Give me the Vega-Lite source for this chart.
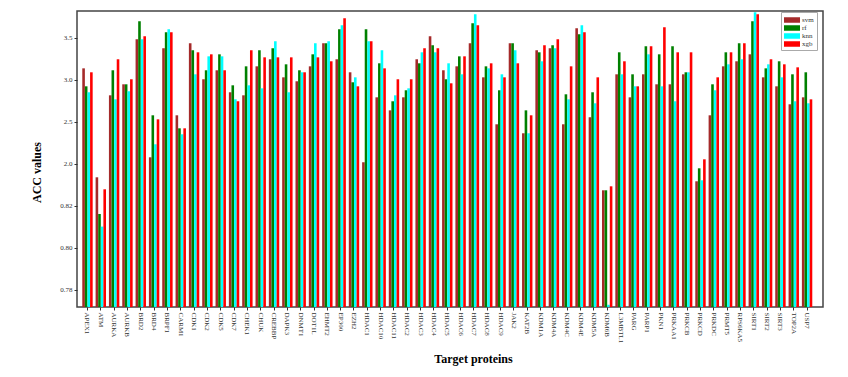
{
  "$schema": "https://vega.github.io/schema/vega-lite/v6.json",
  "width": 746,
  "height": 296,
  "autosize": "none",
  "padding": {"left": 77, "top": 11, "right": 25, "bottom": 70},
  "background": "white",
  "config": {"view": {"stroke": "#444", "strokeWidth": 1.5}, "font": "Liberation Serif"},
  "data": {"values": [
    {"protein": "APEX1", "model": "svm", "acc": 3.134}, {"protein": "APEX1", "model": "rf", "acc": 2.92}, {"protein": "APEX1", "model": "knn", "acc": 2.849}, {"protein": "APEX1", "model": "xgb", "acc": 3.087},
    {"protein": "ATM", "model": "svm", "acc": 1.615}, {"protein": "ATM", "model": "rf", "acc": 0.816}, {"protein": "ATM", "model": "knn", "acc": 0.81}, {"protein": "ATM", "model": "xgb", "acc": 1.278},
    {"protein": "AURKA", "model": "svm", "acc": 2.813}, {"protein": "AURKA", "model": "rf", "acc": 3.111}, {"protein": "AURKA", "model": "knn", "acc": 2.765}, {"protein": "AURKA", "model": "xgb", "acc": 3.242},
    {"protein": "AURKB", "model": "svm", "acc": 2.944}, {"protein": "AURKB", "model": "rf", "acc": 2.944}, {"protein": "AURKB", "model": "knn", "acc": 2.861}, {"protein": "AURKB", "model": "xgb", "acc": 3.004},
    {"protein": "BRD2", "model": "svm", "acc": 3.48}, {"protein": "BRD2", "model": "rf", "acc": 3.694}, {"protein": "BRD2", "model": "knn", "acc": 3.48}, {"protein": "BRD2", "model": "xgb", "acc": 3.515},
    {"protein": "BRD4", "model": "svm", "acc": 2.075}, {"protein": "BRD4", "model": "rf", "acc": 2.575}, {"protein": "BRD4", "model": "knn", "acc": 2.23}, {"protein": "BRD4", "model": "xgb", "acc": 2.527},
    {"protein": "BRPF1", "model": "svm", "acc": 3.373}, {"protein": "BRPF1", "model": "rf", "acc": 3.563}, {"protein": "BRPF1", "model": "knn", "acc": 3.599}, {"protein": "BRPF1", "model": "xgb", "acc": 3.563},
    {"protein": "CARM1", "model": "svm", "acc": 2.575}, {"protein": "CARM1", "model": "rf", "acc": 2.42}, {"protein": "CARM1", "model": "knn", "acc": 2.349}, {"protein": "CARM1", "model": "xgb", "acc": 2.42},
    {"protein": "CDK1", "model": "svm", "acc": 3.432}, {"protein": "CDK1", "model": "rf", "acc": 3.349}, {"protein": "CDK1", "model": "knn", "acc": 3.063}, {"protein": "CDK1", "model": "xgb", "acc": 3.325},
    {"protein": "CDK2", "model": "svm", "acc": 3.004}, {"protein": "CDK2", "model": "rf", "acc": 3.111}, {"protein": "CDK2", "model": "knn", "acc": 3.277}, {"protein": "CDK2", "model": "xgb", "acc": 3.301},
    {"protein": "CDK5", "model": "svm", "acc": 3.111}, {"protein": "CDK5", "model": "rf", "acc": 3.301}, {"protein": "CDK5", "model": "knn", "acc": 3.277}, {"protein": "CDK5", "model": "xgb", "acc": 3.111},
    {"protein": "CDK7", "model": "svm", "acc": 2.849}, {"protein": "CDK7", "model": "rf", "acc": 2.932}, {"protein": "CDK7", "model": "knn", "acc": 2.765}, {"protein": "CDK7", "model": "xgb", "acc": 2.742},
    {"protein": "CHEK1", "model": "svm", "acc": 2.813}, {"protein": "CHEK1", "model": "rf", "acc": 3.158}, {"protein": "CHEK1", "model": "knn", "acc": 2.932}, {"protein": "CHEK1", "model": "xgb", "acc": 3.349},
    {"protein": "CHUK", "model": "svm", "acc": 3.158}, {"protein": "CHUK", "model": "rf", "acc": 3.349}, {"protein": "CHUK", "model": "knn", "acc": 2.896}, {"protein": "CHUK", "model": "xgb", "acc": 3.265},
    {"protein": "CREBBP", "model": "svm", "acc": 3.242}, {"protein": "CREBBP", "model": "rf", "acc": 3.373}, {"protein": "CREBBP", "model": "knn", "acc": 3.456}, {"protein": "CREBBP", "model": "xgb", "acc": 3.265},
    {"protein": "DAPK3", "model": "svm", "acc": 3.027}, {"protein": "DAPK3", "model": "rf", "acc": 3.182}, {"protein": "DAPK3", "model": "knn", "acc": 2.849}, {"protein": "DAPK3", "model": "xgb", "acc": 3.265},
    {"protein": "DNMT1", "model": "svm", "acc": 2.98}, {"protein": "DNMT1", "model": "rf", "acc": 3.111}, {"protein": "DNMT1", "model": "knn", "acc": 3.087}, {"protein": "DNMT1", "model": "xgb", "acc": 3.087},
    {"protein": "DOT1L", "model": "svm", "acc": 3.158}, {"protein": "DOT1L", "model": "rf", "acc": 3.301}, {"protein": "DOT1L", "model": "knn", "acc": 3.432}, {"protein": "DOT1L", "model": "xgb", "acc": 3.265},
    {"protein": "EHMT2", "model": "svm", "acc": 3.432}, {"protein": "EHMT2", "model": "rf", "acc": 3.432}, {"protein": "EHMT2", "model": "knn", "acc": 3.456}, {"protein": "EHMT2", "model": "xgb", "acc": 3.218},
    {"protein": "EP300", "model": "svm", "acc": 3.242}, {"protein": "EP300", "model": "rf", "acc": 3.599}, {"protein": "EP300", "model": "knn", "acc": 3.646}, {"protein": "EP300", "model": "xgb", "acc": 3.73},
    {"protein": "EZH2", "model": "svm", "acc": 3.087}, {"protein": "EZH2", "model": "rf", "acc": 2.968}, {"protein": "EZH2", "model": "knn", "acc": 3.027}, {"protein": "EZH2", "model": "xgb", "acc": 2.92},
    {"protein": "HDAC1", "model": "svm", "acc": 2.016}, {"protein": "HDAC1", "model": "rf", "acc": 3.599}, {"protein": "HDAC1", "model": "knn", "acc": 3.456}, {"protein": "HDAC1", "model": "xgb", "acc": 3.456},
    {"protein": "HDAC10", "model": "svm", "acc": 2.789}, {"protein": "HDAC10", "model": "rf", "acc": 3.194}, {"protein": "HDAC10", "model": "knn", "acc": 3.349}, {"protein": "HDAC10", "model": "xgb", "acc": 3.134},
    {"protein": "HDAC11", "model": "svm", "acc": 2.634}, {"protein": "HDAC11", "model": "rf", "acc": 2.742}, {"protein": "HDAC11", "model": "knn", "acc": 2.813}, {"protein": "HDAC11", "model": "xgb", "acc": 3.004},
    {"protein": "HDAC2", "model": "svm", "acc": 2.789}, {"protein": "HDAC2", "model": "rf", "acc": 2.873}, {"protein": "HDAC2", "model": "knn", "acc": 2.896}, {"protein": "HDAC2", "model": "xgb", "acc": 3.004},
    {"protein": "HDAC3", "model": "svm", "acc": 3.242}, {"protein": "HDAC3", "model": "rf", "acc": 3.194}, {"protein": "HDAC3", "model": "knn", "acc": 3.325}, {"protein": "HDAC3", "model": "xgb", "acc": 3.373},
    {"protein": "HDAC4", "model": "svm", "acc": 3.515}, {"protein": "HDAC4", "model": "rf", "acc": 3.408}, {"protein": "HDAC4", "model": "knn", "acc": 3.325}, {"protein": "HDAC4", "model": "xgb", "acc": 3.373},
    {"protein": "HDAC5", "model": "svm", "acc": 3.111}, {"protein": "HDAC5", "model": "rf", "acc": 3.004}, {"protein": "HDAC5", "model": "knn", "acc": 3.194}, {"protein": "HDAC5", "model": "xgb", "acc": 2.956},
    {"protein": "HDAC6", "model": "svm", "acc": 3.158}, {"protein": "HDAC6", "model": "rf", "acc": 3.277}, {"protein": "HDAC6", "model": "knn", "acc": 3.063}, {"protein": "HDAC6", "model": "xgb", "acc": 3.277},
    {"protein": "HDAC7", "model": "svm", "acc": 3.432}, {"protein": "HDAC7", "model": "rf", "acc": 3.67}, {"protein": "HDAC7", "model": "knn", "acc": 3.777}, {"protein": "HDAC7", "model": "xgb", "acc": 3.646},
    {"protein": "HDAC8", "model": "svm", "acc": 3.027}, {"protein": "HDAC8", "model": "rf", "acc": 3.158}, {"protein": "HDAC8", "model": "knn", "acc": 3.134}, {"protein": "HDAC8", "model": "xgb", "acc": 3.194},
    {"protein": "HDAC9", "model": "svm", "acc": 2.468}, {"protein": "HDAC9", "model": "rf", "acc": 2.873}, {"protein": "HDAC9", "model": "knn", "acc": 3.063}, {"protein": "HDAC9", "model": "xgb", "acc": 3.027},
    {"protein": "JAK2", "model": "svm", "acc": 3.432}, {"protein": "JAK2", "model": "rf", "acc": 3.432}, {"protein": "JAK2", "model": "knn", "acc": 3.349}, {"protein": "JAK2", "model": "xgb", "acc": 3.194},
    {"protein": "KAT2B", "model": "svm", "acc": 2.361}, {"protein": "KAT2B", "model": "rf", "acc": 2.634}, {"protein": "KAT2B", "model": "knn", "acc": 2.361}, {"protein": "KAT2B", "model": "xgb", "acc": 2.575},
    {"protein": "KDM1A", "model": "svm", "acc": 3.349}, {"protein": "KDM1A", "model": "rf", "acc": 3.325}, {"protein": "KDM1A", "model": "knn", "acc": 3.218}, {"protein": "KDM1A", "model": "xgb", "acc": 3.408},
    {"protein": "KDM4A", "model": "svm", "acc": 3.373}, {"protein": "KDM4A", "model": "rf", "acc": 3.408}, {"protein": "KDM4A", "model": "knn", "acc": 3.373}, {"protein": "KDM4A", "model": "xgb", "acc": 3.48},
    {"protein": "KDM4C", "model": "svm", "acc": 2.468}, {"protein": "KDM4C", "model": "rf", "acc": 2.825}, {"protein": "KDM4C", "model": "knn", "acc": 2.765}, {"protein": "KDM4C", "model": "xgb", "acc": 3.158},
    {"protein": "KDM4E", "model": "svm", "acc": 3.611}, {"protein": "KDM4E", "model": "rf", "acc": 3.539}, {"protein": "KDM4E", "model": "knn", "acc": 3.646}, {"protein": "KDM4E", "model": "xgb", "acc": 3.563},
    {"protein": "KDM5A", "model": "svm", "acc": 2.551}, {"protein": "KDM5A", "model": "rf", "acc": 2.849}, {"protein": "KDM5A", "model": "knn", "acc": 2.718}, {"protein": "KDM5A", "model": "xgb", "acc": 3.027},
    {"protein": "KDM6B", "model": "svm", "acc": 1.25}, {"protein": "KDM6B", "model": "rf", "acc": 1.25}, {"protein": "KDM6B", "model": "knn", "acc": 0.7725}, {"protein": "KDM6B", "model": "xgb", "acc": 1.362},
    {"protein": "L3MBTL1", "model": "svm", "acc": 3.063}, {"protein": "L3MBTL1", "model": "rf", "acc": 3.325}, {"protein": "L3MBTL1", "model": "knn", "acc": 3.063}, {"protein": "L3MBTL1", "model": "xgb", "acc": 3.218},
    {"protein": "PARG", "model": "svm", "acc": 2.789}, {"protein": "PARG", "model": "rf", "acc": 3.063}, {"protein": "PARG", "model": "knn", "acc": 2.92}, {"protein": "PARG", "model": "xgb", "acc": 2.92},
    {"protein": "PARP1", "model": "svm", "acc": 3.063}, {"protein": "PARP1", "model": "rf", "acc": 3.396}, {"protein": "PARP1", "model": "knn", "acc": 3.301}, {"protein": "PARP1", "model": "xgb", "acc": 3.396},
    {"protein": "PKN1", "model": "svm", "acc": 2.944}, {"protein": "PKN1", "model": "rf", "acc": 3.301}, {"protein": "PKN1", "model": "knn", "acc": 2.92}, {"protein": "PKN1", "model": "xgb", "acc": 3.623},
    {"protein": "PRKAA1", "model": "svm", "acc": 2.944}, {"protein": "PRKAA1", "model": "rf", "acc": 3.396}, {"protein": "PRKAA1", "model": "knn", "acc": 2.742}, {"protein": "PRKAA1", "model": "xgb", "acc": 3.325},
    {"protein": "PRKCB", "model": "svm", "acc": 3.063}, {"protein": "PRKCB", "model": "rf", "acc": 3.087}, {"protein": "PRKCB", "model": "knn", "acc": 3.087}, {"protein": "PRKCB", "model": "xgb", "acc": 3.325},
    {"protein": "PRKCD", "model": "svm", "acc": 1.503}, {"protein": "PRKCD", "model": "rf", "acc": 1.868}, {"protein": "PRKCD", "model": "knn", "acc": 1.531}, {"protein": "PRKCD", "model": "xgb", "acc": 2.051},
    {"protein": "PRKDC", "model": "svm", "acc": 2.575}, {"protein": "PRKDC", "model": "rf", "acc": 2.944}, {"protein": "PRKDC", "model": "knn", "acc": 2.873}, {"protein": "PRKDC", "model": "xgb", "acc": 3.027},
    {"protein": "PRMT5", "model": "svm", "acc": 3.158}, {"protein": "PRMT5", "model": "rf", "acc": 3.325}, {"protein": "PRMT5", "model": "knn", "acc": 3.182}, {"protein": "PRMT5", "model": "xgb", "acc": 3.325},
    {"protein": "RPS6KA5", "model": "svm", "acc": 3.218}, {"protein": "RPS6KA5", "model": "rf", "acc": 3.432}, {"protein": "RPS6KA5", "model": "knn", "acc": 3.242}, {"protein": "RPS6KA5", "model": "xgb", "acc": 3.432},
    {"protein": "SIRT1", "model": "svm", "acc": 3.301}, {"protein": "SIRT1", "model": "rf", "acc": 3.694}, {"protein": "SIRT1", "model": "knn", "acc": 3.801}, {"protein": "SIRT1", "model": "xgb", "acc": 3.777},
    {"protein": "SIRT2", "model": "svm", "acc": 3.027}, {"protein": "SIRT2", "model": "rf", "acc": 3.134}, {"protein": "SIRT2", "model": "knn", "acc": 3.182}, {"protein": "SIRT2", "model": "xgb", "acc": 3.242},
    {"protein": "SIRT3", "model": "svm", "acc": 2.92}, {"protein": "SIRT3", "model": "rf", "acc": 3.218}, {"protein": "SIRT3", "model": "knn", "acc": 3.027}, {"protein": "SIRT3", "model": "xgb", "acc": 3.182},
    {"protein": "TOP2A", "model": "svm", "acc": 2.706}, {"protein": "TOP2A", "model": "rf", "acc": 3.063}, {"protein": "TOP2A", "model": "knn", "acc": 2.742}, {"protein": "TOP2A", "model": "xgb", "acc": 3.146},
    {"protein": "USP7", "model": "svm", "acc": 2.789}, {"protein": "USP7", "model": "rf", "acc": 3.087}, {"protein": "USP7", "model": "knn", "acc": 2.718}, {"protein": "USP7", "model": "xgb", "acc": 2.765}
  ]},
  "mark": {"type": "bar"},
  "encoding": {
    "x": {
      "field": "protein", "type": "nominal", "sort": null,
      "scale": {"paddingInner": 0.22, "paddingOuter": 0.6, "align": 0.33},
      "axis": {
        "title": "Target proteins", "labelAngle": 90, "labelFontSize": 7, "labelFont": "Liberation Serif",
        "labelColor": "#333", "tickSize": 3, "tickColor": "#333", "domain": false, "labelPadding": 2,
        "titleFontSize": 12, "titleFontWeight": "bold", "titleFont": "Liberation Serif", "titleColor": "#000",
        "titleX": 396, "titleY": 51, "titleBaseline": "middle", "titleAlign": "center"
      }
    },
    "xOffset": {"field": "model", "type": "nominal", "sort": ["svm", "rf", "knn", "xgb"], "scale": {"paddingInner": 0, "paddingOuter": 0}},
    "y": {
      "field": "acc", "type": "quantitative",
      "scale": {
        "domain": [0.7714, 0.78, 0.8, 0.82, 2.0, 2.5, 3.0, 3.5, 3.817],
        "range": [296, 278.6, 236.6, 194.6, 152.6, 110.6, 68.6, 26.6, 0],
        "zero": false, "nice": false, "clamp": true
      },
      "axis": {
        "title": "ACC values", "values": [0.78, 0.8, 0.82, 2.0, 2.5, 3.0, 3.5],
        "labelExpr": "datum.value < 1 ? format(datum.value, '.2f') : format(datum.value, '.1f')",
        "grid": false, "domain": false, "tickSize": 3, "tickColor": "#333",
        "labelFontSize": 7, "labelFont": "Liberation Serif", "labelColor": "#333", "labelPadding": 2,
        "titleFontSize": 12, "titleFontWeight": "bold", "titleFont": "Liberation Serif", "titleColor": "#000",
        "titleX": -41, "titleY": 161, "titleAngle": -90, "titleBaseline": "middle", "titleAlign": "center"
      }
    },
    "y2": {"datum": 0.7714},
    "color": {
      "field": "model", "type": "nominal",
      "scale": {"domain": ["svm", "rf", "knn", "xgb"], "range": ["#A52A2A", "#008000", "#00FFFF", "#FF0000"]},
      "legend": {
        "title": null, "orient": "none", "legendX": 704, "legendY": 1,
        "symbolType": "M-1.6,-0.55L1.6,-0.55L1.6,0.55L-1.6,0.55Z", "symbolSize": 100,
        "symbolStrokeWidth": 0, "symbolOffset": 3,
        "labelFontSize": 7, "labelFont": "Liberation Serif", "labelColor": "#333", "labelOffset": 5,
        "strokeColor": "#aaa", "fillColor": "white", "padding": 3, "rowPadding": 0, "cornerRadius": 0
      }
    }
  }
}
